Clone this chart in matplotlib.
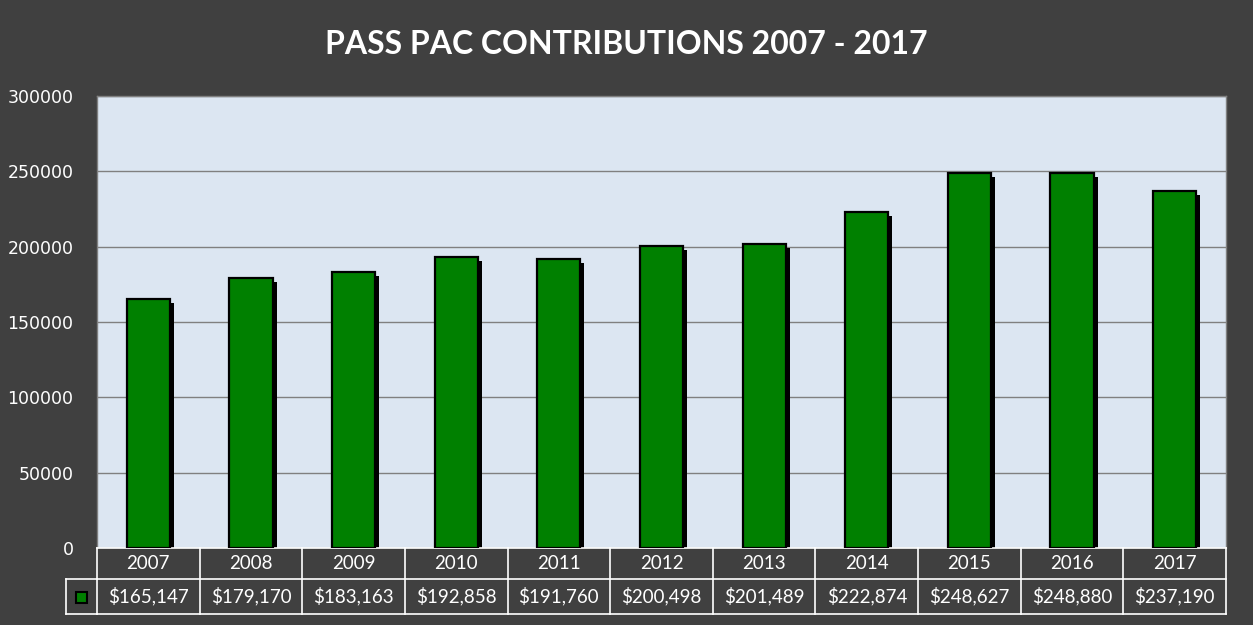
import matplotlib
matplotlib.use("Agg")
import matplotlib.pyplot as plt
from matplotlib.transforms import ScaledTranslation, blended_transform_factory
from matplotlib.lines import Line2D
from matplotlib.patches import Rectangle

years = ["2007", "2008", "2009", "2010", "2011", "2012", "2013", "2014", "2015", "2016", "2017"]
values = [165147, 179170, 183163, 192858, 191760, 200498, 201489, 222874, 248627, 248880, 237190]
title = "PASS PAC CONTRIBUTIONS 2007 - 2017"
yticks = [0, 50000, 100000, 150000, 200000, 250000, 300000]

BG = "#404040"
PLOT_BG = "#DCE6F2"
GREEN = "#008000"
W, H = 1253, 625

fig = plt.figure(figsize=(W / 100, H / 100), dpi=100, facecolor=BG)
L, R, T, B = 97, 1226, 96, 548
ax = fig.add_axes([L / W, 1 - B / H, (R - L) / W, (B - T) / H])
ax.set_facecolor(PLOT_BG)

x = list(range(len(years)))
shadow_tr = ax.transData + ScaledTranslation(4 / 100, -4 / 100, fig.dpi_scale_trans)
ax.bar(x, values, width=0.42, color="black", transform=shadow_tr, zorder=2)
ax.bar(x, values, width=0.42, color=GREEN, edgecolor="black", linewidth=1.6, zorder=3)

ax.set_xlim(-0.5, len(years) - 0.5)
ax.set_ylim(0, 300000)
ax.set_yticks(yticks)
ax.set_yticklabels([str(v) for v in yticks], color="white", fontsize=12.5, family="DejaVu Sans")
ax.tick_params(axis="y", length=0, pad=17)
ax.set_xticks([])
ax.yaxis.grid(True, color="#808080", linewidth=1, zorder=1)
ax.set_axisbelow(True)
for s in ["left", "top", "right"]:
    ax.spines[s].set_color("#808080")
    ax.spines[s].set_linewidth(1)
ax.spines["bottom"].set_color("white")
ax.spines["bottom"].set_linewidth(1.2)

fig.text(0.5, 1 - 45 / H, title, ha="center", va="center", color="white",
         fontsize=23, fontweight="bold", family="Lato")

# data table below the axis
bt = blended_transform_factory(ax.transData, fig.transFigure)
y0 = 1 - B / H
y1 = 1 - 579 / H
y2 = 1 - 614 / H
lc = "white"
lw = 1.2
n = len(years)
fig.add_artist(Line2D([-0.5, n - 0.5], [y1, y1], transform=bt, color=lc, lw=lw))
fig.add_artist(Line2D([-0.5, n - 0.5], [y2, y2], transform=bt, color=lc, lw=lw))
fig.add_artist(Line2D([66 / W, L / W], [y1, y1], transform=fig.transFigure, color=lc, lw=lw))
fig.add_artist(Line2D([66 / W, L / W], [y2, y2], transform=fig.transFigure, color=lc, lw=lw))
fig.add_artist(Line2D([66 / W, 66 / W], [y1, y2], transform=fig.transFigure, color=lc, lw=lw))
for i in range(n + 1):
    fig.add_artist(Line2D([i - 0.5, i - 0.5], [y0, y2], transform=bt, color=lc, lw=lw))
for i, (yr, v) in enumerate(zip(years, values)):
    fig.text(i, (y0 + y1) / 2, yr, transform=bt, ha="center", va="center",
             color="white", fontsize=13.5, family="Lato")
    fig.text(i, (y1 + y2) / 2, f"${v:,}", transform=bt, ha="center", va="center",
             color="white", fontsize=13.5, family="Lato")
fig.add_artist(Rectangle(((81.5 - 5.5) / W, 1 - (597 + 5.5) / H), 11 / W, 11 / H,
                         transform=fig.transFigure, facecolor=GREEN, edgecolor="black", lw=1.5))

fig.savefig("out.png", dpi=100, facecolor=BG)
